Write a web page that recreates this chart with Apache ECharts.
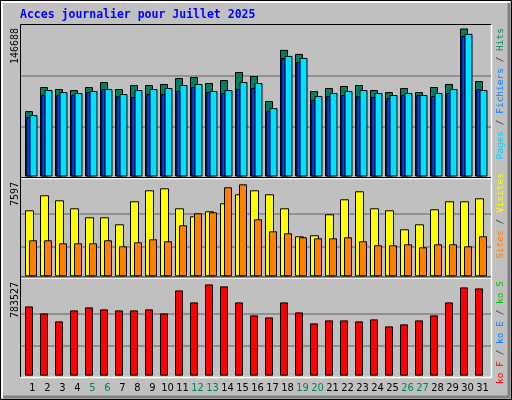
<!DOCTYPE html>
<html><head><meta charset="utf-8">
<script src="https://cdn.jsdelivr.net/npm/echarts@6/dist/echarts.min.js"></script>
<style>html,body{margin:0;padding:0;background:#c0c0c0}#c{width:512px;height:400px}</style>
</head><body><div id="c"></div>
<script>
const days = ['1','2','3','4','5','6','7','8','9','10','11','12','13','14','15','16','17','18','19','20','21','22','23','24','25','26','27','28','29','30','31'];
const weekend = ['5','6','12','13','19','20','26','27'];
const hits = [64800,88700,86700,85700,88700,93600,86700,90700,90700,91700,97600,98600,92700,95600,103600,99600,74800,125500,121500,84700,87700,89700,90700,85700,83700,87700,83700,88700,91700,146688,94600];
const files = [58840,80720,80720,80720,83700,86690,79730,78730,81720,81720,84700,88680,83700,82710,86690,87680,64810,117520,113540,75750,79730,80720,79730,78730,77740,80720,80720,79730,82710,139400,86690];
const pages = [60830,85690,83700,82710,84700,86690,81720,85690,86690,87680,90670,91660,84700,85690,93650,92650,67790,119500,117520,79730,82710,84700,85690,82710,80720,82710,80720,82710,86690,141380,85690];
const sites = [5451,6690,6277,5616,4873,4873,4295,6194,7103,7268,5616,4955,5368,6029,6772,7103,6772,5616,3304,3386,5121,6359,7020,5616,5451,3882,4295,5534,6194,6194,6442];
const visits = [2973,2973,2725,2725,2725,2973,2478,2808,3056,2891,4212,5203,5286,7351,7597,4708,3717,3551,3221,3138,3138,3221,2891,2560,2560,2643,2395,2643,2643,2478,3304];
const kbF = [594800,534700,466100,560500,586200,569100,560500,560500,569100,534700,732100,629100,783527,766400,629100,517600,500400,629100,543300,449000,474700,474700,466100,483300,423200,440400,474700,517600,629100,757800,749200];
const maxLabels = ['146688','7597','783527'];

const W = 465, L0 = 23.5;
const grids = [], xs = [], ys = [], series = [];
function addGrid(top, bottom, shift, left, right){
  grids.push({top, bottom, left: left!==undefined?left:L0+shift, right: right!==undefined?right:(512-L0-W)-shift, containLabel:false});
  return grids.length-1;
}
function hiddenX(g, show){
  xs.push({type:'category', gridIndex:g, data:days, show:!!show,
    axisLine:{show:false}, axisTick:{show:false},
    axisLabel:{show:!!show, margin:7, fontFamily:'DejaVu Sans Condensed', fontSize:11, interval:0,
      color:(v)=>weekend.includes(v)?'#008060':'#000'}});
}
function valY(g, max, lines){
  ys.push({type:'value', gridIndex:g, min:0, max:max, interval: lines?1:max, show:true,
    axisLine:{show:false}, axisTick:{show:false}, axisLabel:{show:false},
    splitLine:{show:!!lines, showMinLine:false, showMaxLine:false, lineStyle:{color:'#808080', width:1.5}}});
}
[[25,222],[180.3,120.7],[280.8,21.4]].forEach(([t,b])=>{
  const g = addGrid(t,b,0,21,21); hiddenX(g); valY(g,3,true);
});
function barSeries(data, color, top, bottom, shift, width, max, z){
  const g = addGrid(top,bottom,shift); hiddenX(g); valY(g,max,false);
  series.push({type:'bar', xAxisIndex:g, yAxisIndex:g, data, barWidth:width, z,
    itemStyle:{color, borderColor:'#000', borderWidth:1}, animation:false});
}
barSeries(hits,'#008060',28.5,223.5,-2,8,146688,2);
barSeries(files,'#0040ff',28.5,223.5,-2.5,4.5,146688,3);
barSeries(pages,'#00e0ff',28.5,223.5,2.5,8,146688,4);
barSeries(sites,'#ffff00',177.3,123.7,-1.5,9,8175,2);
barSeries(visits,'#ff8000',177.3,123.7,2,8,8175,3);
barSeries(kbF,'#ff0000',284.4,24.3,-2,8,783527,2);
const gl = addGrid(284.4,24.3,1.5); hiddenX(gl,true); valY(gl,1,false);

const mono = 'DejaVu Sans Mono';
function vtext(x,y,rich,text,size){
  return {type:'text', x, y, rotation:Math.PI/2, style:{text, rich, font:size+'px '+mono, align:'right', verticalAlign:'middle'}};
}
const chart = echarts.init(document.getElementById('c'));
chart.setOption({
  backgroundColor:'#c0c0c0', animation:false,
  grid:grids, xAxis:xs, yAxis:ys, series,
  graphic:[
    {type:'rect', shape:{x:0.5,y:0.5,width:511,height:399}, style:{fill:'none', stroke:'#000', lineWidth:1}, z:-10},
    {type:'polyline', shape:{points:[[2,398],[2,2],[510,2]]}, style:{stroke:'#fff', lineWidth:2, fill:'none'}, z:-10},
    {type:'polyline', shape:{points:[[3,397],[509,397],[509,3]]}, style:{stroke:'#808080', lineWidth:3, fill:'none'}, z:-10},
    {type:'polyline', shape:{points:[[20.5,377],[20.5,24.5],[491.5,24.5]]}, style:{stroke:'#000', lineWidth:1, fill:'none'}, z:-5},
    {type:'polyline', shape:{points:[[20.5,377.5],[491.5,377.5],[491.5,24.5]]}, style:{stroke:'#fff', lineWidth:1.5, fill:'none'}, z:-5},
    {type:'line', shape:{x1:21,y1:177.5,x2:491,y2:177.5}, style:{stroke:'#000', lineWidth:1}, z:10},
    {type:'line', shape:{x1:21,y1:178.7,x2:491,y2:178.7}, style:{stroke:'#fff', lineWidth:1}, z:10},
    {type:'line', shape:{x1:21,y1:277,x2:491,y2:277}, style:{stroke:'#000', lineWidth:1}, z:10},
    {type:'line', shape:{x1:21,y1:278.2,x2:491,y2:278.2}, style:{stroke:'#fff', lineWidth:1}, z:10},
    {type:'text', x:20, y:15, style:{text:'Acces journalier pour Juillet 2025', font:'bold 11.5px '+mono, fill:'#0000ff', verticalAlign:'middle'}},
    vtext(15,28,{},maxLabels[0],10),
    vtext(15,182,{},maxLabels[1],10),
    vtext(15,282,{},maxLabels[2],10),
    vtext(501,28,{p:{fill:'#00d0ff'},s:{fill:'#404040'},f:{fill:'#0080ff'},h:{fill:'#008060'}},'{p|Pages}{s| / }{f|Fichiers}{s| / }{h|Hits}',9.5),
    vtext(501,173,{a:{fill:'#ff8000'},s:{fill:'#404040'},b:{fill:'#ffff00'}},'{a|Sites}{s| / }{b|Visites}',9.5),
    vtext(501,281,{a:{fill:'#ff0000'},s:{fill:'#404040'},b:{fill:'#0080ff'},c:{fill:'#00c000'}},'{a|ko F}{s| / }{b|ko E}{s| / }{c|ko S}',9.5)
  ]
});
</script></body></html>
